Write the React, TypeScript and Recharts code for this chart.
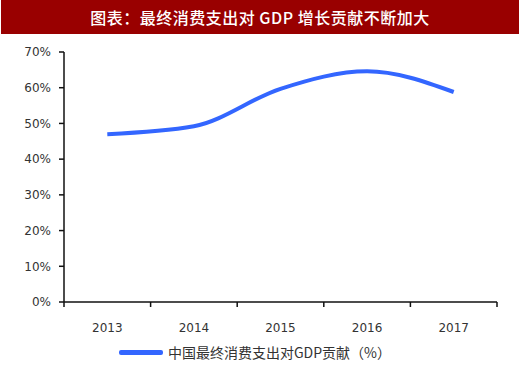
import { LineChart, Line, XAxis, YAxis, Legend } from "recharts";

const years = ["2013", "2014", "2015", "2016", "2017"];
const contribution = [47.0, 49.2, 59.7, 64.6, 58.8];
const yTicks = [0, 10, 20, 30, 40, 50, 60, 70];
const seriesName = "中国最终消费支出对GDP贡献（%）";
const title = "图表：最终消费支出对 GDP 增长贡献不断加大";

const data = years.map((year, i) => ({ year, value: contribution[i] }));

const W = 520;
const H = 373;
const margin = { top: 52, right: 23, left: 8, bottom: 41 };
const Y_AXIS_W = 56;
const band = (W - margin.left - margin.right - Y_AXIS_W) / years.length;

const axisColor = "#111";
const labelColor = "#333";
const lineColor = "#3366ff";
const font = "'DejaVu Sans', sans-serif";

// Excel-style ticks sit between the categories, so draw them beside the label
const YearTick = ({ x, y, payload, index }: any) => (
  <g>
    <line x1={x - band / 2} x2={x - band / 2} y1={y - 8} y2={y - 3} stroke={axisColor} strokeWidth={1.5} />
    {index === years.length - 1 && (
      <line x1={x + band / 2} x2={x + band / 2} y1={y - 8} y2={y - 3} stroke={axisColor} strokeWidth={1.5} />
    )}
    <text x={x} y={y + 22} textAnchor="middle" fill={labelColor} fontSize={12} fontFamily={font}>
      {payload.value}
    </text>
  </g>
);

const LegendContent = () => (
  <div style={{ display: "flex", alignItems: "center", justifyContent: "center", gap: 5 }}>
    <div style={{ width: 44, height: 5, background: lineColor, borderRadius: 2 }} />
    <span style={{ fontSize: 14, color: labelColor, fontFamily: "'Noto Sans CJK SC', sans-serif" }}>{seriesName}</span>
  </div>
);

export default function App() {
  return (
    <div style={{ position: "absolute", left: 0, top: 0, width: W, height: H, background: "#fff" }}>
      <div
        style={{
          position: "absolute",
          left: 1,
          top: 0,
          width: 518,
          height: 34,
          background: "#990000",
          color: "#fff",
          fontFamily: "'Noto Sans CJK SC', sans-serif",
          fontWeight: 500,
          fontSize: 16,
          letterSpacing: 0.5,
          lineHeight: "34px",
          textAlign: "center",
        }}
      >
        {title}
      </div>
      <LineChart width={W} height={H} data={data} margin={margin} style={{ position: "absolute", left: 0, top: 0 }}>
        <XAxis
          dataKey="year"
          height={30}
          padding={{ left: band / 2, right: band / 2 }}
          axisLine={{ stroke: axisColor, strokeWidth: 1.5 }}
          tickLine={false}
          tick={<YearTick />}
        />
        <YAxis
          width={Y_AXIS_W}
          domain={[0, 70]}
          ticks={yTicks}
          tickFormatter={(v) => `${v}%`}
          axisLine={{ stroke: axisColor, strokeWidth: 1.5 }}
          tickLine={{ stroke: axisColor, strokeWidth: 1.5 }}
          tickSize={5}
          tick={{ fill: labelColor, fontSize: 12, fontFamily: font, dx: -6 }}
        />
        <Legend
          layout="horizontal"
          verticalAlign="middle"
          align="center"
          content={<LegendContent />}
          wrapperStyle={{ top: 342, left: 0, width: 510, height: 22 }}
        />
        <Line
          type="monotone"
          dataKey="value"
          name={seriesName}
          stroke={lineColor}
          strokeWidth={4}
          dot={false}
          isAnimationActive={false}
        />
      </LineChart>
    </div>
  );
}
